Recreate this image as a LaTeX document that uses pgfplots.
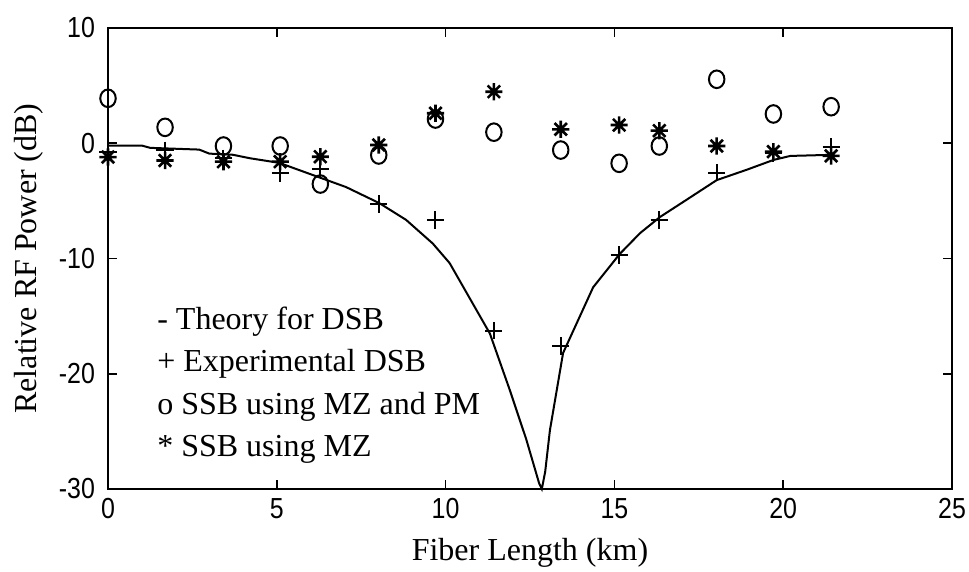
\documentclass[border=0pt]{standalone}
\usepackage{pgfplots}
\pgfplotsset{compat=1.18}
\usepackage{fontspec}
\setmainfont{Liberation Serif}
\newfontfamily\tickfont[FakeStretch=0.86]{Liberation Sans}
\pgfdeclareplotmark{star8}{%
  \pgfpathmoveto{\pgfqpoint{0pt}{\pgfplotmarksize}}%
  \pgfpathlineto{\pgfqpoint{0pt}{-\pgfplotmarksize}}%
  \pgfpathmoveto{\pgfqpoint{\pgfplotmarksize}{0pt}}%
  \pgfpathlineto{\pgfqpoint{-\pgfplotmarksize}{0pt}}%
  \pgfpathmoveto{\pgfqpoint{0.72\pgfplotmarksize}{0.72\pgfplotmarksize}}%
  \pgfpathlineto{\pgfqpoint{-0.72\pgfplotmarksize}{-0.72\pgfplotmarksize}}%
  \pgfpathmoveto{\pgfqpoint{0.72\pgfplotmarksize}{-0.72\pgfplotmarksize}}%
  \pgfpathlineto{\pgfqpoint{-0.72\pgfplotmarksize}{0.72\pgfplotmarksize}}%
  \pgfusepathqstroke}
\begin{document}
\begin{tikzpicture}
\begin{axis}[
  width=422pt, height=230.5pt, scale only axis,
  xmin=0, xmax=25, ymin=-30, ymax=10,
  xtick={0,5,...,25}, ytick={-30,-20,...,10},
  tick align=inside, major tick length=4.5pt,
  axis line style={line width=1pt},
  tick style={line width=0.8pt, black},
  /pgf/number format/assume math mode=true,
  ticklabel style={font=\tickfont\fontsize{14.5}{16}\selectfont},
  yticklabel style={xshift=-3pt},
  xticklabel style={yshift=-1pt},
  xlabel={Fiber Length (km)},
  ylabel={Relative RF Power (dB)},
  label style={font=\fontsize{16}{19}\selectfont},
  xlabel style={at={(axis description cs:0.5,-0.139)}, anchor=center},
  ylabel style={at={(axis description cs:-0.094,0.5)}, anchor=center},
  clip=false,
]
\addplot[black, line width=1pt, no marks] coordinates {
(0,-0.2) (1.0,-0.2) (1.25,-0.4) (2.7,-0.55) (3.0,-0.9) (3.7,-1.0) (4.2,-1.3)
(5.07,-1.7) (6.06,-2.75) (7.05,-3.8) (8.04,-5.2) (8.83,-6.65) (9.62,-8.7)
(10.12,-10.4) (10.51,-12.4) (11.31,-16.5) (11.9,-21.4) (12.39,-25.7)
(12.77,-29.5) (12.85,-30) (12.95,-28.5) (13.09,-24.9) (13.48,-18.2) (13.98,-15.0)
(14.37,-12.5) (15.16,-9.6) (15.76,-7.8) (16.35,-6.4) (17.14,-4.9) (18.03,-3.2)
(18.92,-2.3) (19.71,-1.45) (20.21,-1.1) (21.5,-1.0)
};
\addplot[only marks, mark=+, mark size=4.3pt, mark options={line width=1pt}] coordinates {
(0,-0.8) (1.69,-0.6) (3.42,-1.3) (5.10,-2.6) (6.29,-2.25) (8.02,-5.27) (9.70,-6.66)
(11.43,-16.26) (13.41,-17.6) (15.14,-9.7) (16.33,-6.66) (18.03,-2.55) (19.71,-0.87) (21.42,-0.3)
};
\addplot[only marks, mark=o, mark size=4.4pt, mark options={line width=1pt, xscale=0.88}] coordinates {
(0,3.9) (1.69,1.38) (3.42,-0.24) (5.10,-0.24) (6.29,-3.54) (8.02,-1.02) (9.70,2.1)
(11.43,0.96) (13.41,-0.59) (15.14,-1.74) (16.33,-0.24) (18.03,5.55) (19.71,2.54) (21.42,3.17)
};
\addplot[only marks, mark=star8, mark size=4.3pt, mark options={line width=1.3pt}] coordinates {
(0,-1.2) (1.69,-1.5) (3.42,-1.6) (5.10,-1.6) (6.29,-1.17) (8.02,-0.15) (9.70,2.6)
(11.43,4.47) (13.41,1.21) (15.14,1.58) (16.33,1.09) (18.03,-0.24) (19.71,-0.73) (21.42,-1.1)
};
\begin{scope}[every node/.style={anchor=west, inner sep=0pt, text height=0.72em, text depth=0.22em, font=\fontsize{16}{19}\selectfont}]
\node at (axis cs:1.45,-15.7) {- Theory for DSB};
\node at (axis cs:1.45,-19.4) {+ Experimental DSB};
\node at (axis cs:1.45,-23.1) {o SSB using MZ and PM};
\node at (axis cs:1.45,-26.75) {* SSB using MZ};
\end{scope}
\end{axis}
\pgfresetboundingbox
\path[use as bounding box] ([shift={(-54pt,-41.5pt)}]current axis.south west) rectangle ([shift={(8.5pt,14pt)}]current axis.north east);
\end{tikzpicture}
\end{document}
